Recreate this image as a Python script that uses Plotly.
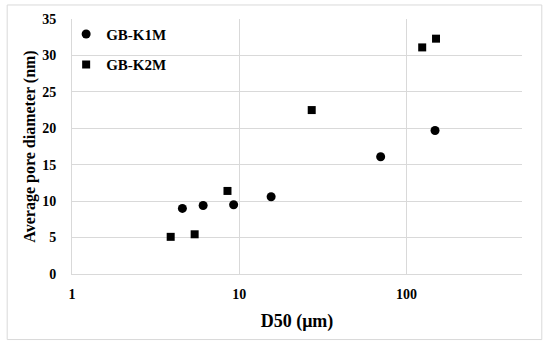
import plotly.graph_objects as go

k1_x = [4.57, 6.08, 9.25, 15.5, 70, 148]
k1_y = [9.0, 9.4, 9.5, 10.6, 16.1, 19.7]
k2_x = [3.89, 5.41, 8.5, 27.1, 124, 150]
k2_y = [5.1, 5.45, 11.4, 22.5, 31.1, 32.3]

font_fam = "Liberation Serif, DejaVu Serif, serif"

fig = go.Figure()
fig.add_trace(go.Scatter(x=k1_x, y=k1_y, mode="markers", name="GB-K1M", legendgroup="a",
                         marker=dict(symbol="circle", size=9, color="black")))
fig.add_trace(go.Scatter(x=k2_x, y=k2_y, mode="markers", name="GB-K2M", legendgroup="b",
                         marker=dict(symbol="square", size=8, color="black")))

fig.update_layout(
    width=550, height=349,
    margin=dict(l=72, r=28, t=19, b=75),
    paper_bgcolor="white", plot_bgcolor="white",
    font=dict(family=font_fam, color="black", size=14),
    showlegend=True,
    legend=dict(x=-0.013, y=1.005, xanchor="left", yanchor="top", bgcolor="rgba(0,0,0,0)",
                font=dict(size=15, family=font_fam, weight="bold"),
                tracegroupgap=8, itemwidth=30),
    xaxis=dict(type="log", range=[0, 2.69], tickvals=[1, 10, 100], ticktext=["1", "10", "100"],
               showgrid=True, gridcolor="#d9d9d9", gridwidth=1,
               showline=True, linecolor="#d9d9d9", zeroline=False,
               ticks="", ticklabelstandoff=7,
               tickfont=dict(size=14, family=font_fam, weight="bold"),
               title=dict(text="<b>D50 (μm)</b>", font=dict(size=18, family=font_fam), standoff=13)),
    yaxis=dict(range=[0, 35], dtick=5, showgrid=True, gridcolor="#d9d9d9", gridwidth=1,
               showline=True, linecolor="#d9d9d9", zeroline=False, ticks="",
               ticklabelstandoff=12,
               tickfont=dict(size=14, family=font_fam, weight="bold"),
               title=dict(text="<b>Average pore diameter (nm)</b>", font=dict(size=16, family=font_fam), standoff=2)),
    shapes=[dict(type="rect", xref="paper", yref="paper", x0=-0.144, x1=1.044, y0=-0.257, y1=1.055,
                 line=dict(color="#d9d9d9", width=1), layer="below")],
)

fig.write_html("out.html", config={"displayModeBar": False},
               post_script="document.body.style.margin='0';")
